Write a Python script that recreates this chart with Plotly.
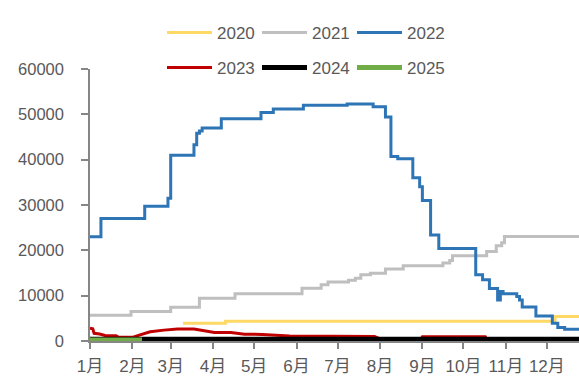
import plotly.graph_objects as go

YEAR = "2001"

# 2020
d2020 = ["03-10", "04-10", "12-07", "12-31"]
v2020 = [3900, 4350, 5400, 5400]

# 2021
d2021 = ["01-01", "01-31", "03-01", "03-22", "04-17", "06-05", "06-19", "06-24",
         "07-09", "07-14", "07-18", "07-25", "08-05", "08-18", "09-16", "09-21",
         "09-23", "10-18", "10-25", "10-29", "10-31", "12-31"]
v2021 = [5700, 6500, 7450, 9450, 10400, 11650, 12400, 13000,
         13400, 13850, 14600, 14950, 15900, 16600, 17200, 17750,
         18800, 19750, 21000, 21700, 23050, 23050]

# 2022
d2022 = ["01-01", "01-09", "02-10", "02-27", "03-01", "03-18", "03-20", "03-22",
         "03-24", "04-07", "05-06", "05-15", "06-06", "07-08", "07-27", "08-05",
         "08-09", "08-14", "08-25", "08-30", "09-01", "09-07", "09-13", "10-10",
         "10-15", "10-20", "10-26", "10-28", "10-30", "11-03", "11-09", "11-11",
         "11-13", "11-23", "12-05", "12-09", "12-14", "12-31"]
v2022 = [23000, 27000, 29700, 31500, 41000, 43300, 45800, 46300,
         47000, 49000, 50400, 51200, 52000, 52300, 51700, 49400,
         40700, 40200, 36000, 34000, 31000, 23400, 20400, 14600,
         13500, 11600, 9050, 10900, 10400, 10400, 9800, 9050,
         7500, 5500, 3900, 3000, 2600, 2600]

# 2023
d2023 = ["01-01", "01-03", "01-04", "01-08", "01-12", "01-20", "01-22", "02-01",
         "02-06", "02-14", "02-24", "03-06", "03-18", "03-25", "04-02", "04-14",
         "04-24", "05-07", "05-27", "07-28", "08-01", "08-31", "09-01", "10-17",
         "10-18", "12-31"]
v2023 = [2800, 2700, 1700, 1550, 1200, 1150, 800, 800,
         1300, 2050, 2400, 2650, 2650, 2300, 1900, 1850,
         1500, 1450, 1100, 1000, 450, 450, 950, 950,
         400, 400]

# 2024
d2024 = ["01-01", "12-31"]
v2024 = [400, 400]

# 2025
d2025 = ["01-01", "02-08"]
v2025 = [200, 200]

month_ticks = [f"{YEAR}-{m:02d}-01" for m in range(1, 13)]
month_labels = [f"{m}月" for m in range(1, 13)]

FONT = "Liberation Sans, Noto Sans CJK SC, sans-serif"
GREY_TXT = "#595959"

series = [
    ("2020", d2020, v2020, "#FFD966", 3, "hv", "legend"),
    ("2021", d2021, v2021, "#BFBFBF", 3, "hv", "legend"),
    ("2022", d2022, v2022, "#2E75B6", 3, "hv", "legend"),
    ("2023", d2023, v2023, "#C00000", 3, "linear", "legend2"),
    ("2024", d2024, v2024, "#000000", 5, "linear", "legend2"),
    ("2025", d2025, v2025, "#70AD47", 5, "linear", "legend2"),
]

fig = go.Figure()
for name, dates, vals, color, width, shape, leg in series:
    fig.add_trace(go.Scatter(
        x=[f"{YEAR}-{d}" for d in dates],
        y=vals,
        name=name,
        mode="lines",
        line=dict(color=color, width=width, shape=shape),
        legend=leg,
    ))

legend_style = dict(
    orientation="h",
    xref="container", yref="container",
    xanchor="left", yanchor="middle",
    bgcolor="rgba(0,0,0,0)",
    font=dict(family=FONT, size=17, color=GREY_TXT),
    itemwidth=45,
    entrywidth=35,
    entrywidthmode="pixels",
    tracegroupgap=0,
)

fig.update_layout(
    width=579, height=376,
    margin=dict(l=90, r=0, t=69, b=35, autoexpand=False),
    plot_bgcolor="white", paper_bgcolor="white",
    font=dict(family=FONT, size=17, color=GREY_TXT),
    showlegend=True,
    legend=dict(legend_style, x=162 / 579, y=1 - 33 / 376),
    legend2=dict(legend_style, x=162 / 579, y=1 - 68 / 376),
    xaxis=dict(
        type="date",
        range=[f"{YEAR}-01-01", f"{YEAR}-12-24 12:00"],
        tickvals=month_ticks, ticktext=month_labels,
        ticks="outside", ticklen=6, tickcolor="#868686", tickwidth=1.5,
        showline=True, linecolor="#868686", linewidth=1.5,
        showgrid=False, zeroline=False,
        ticklabelstandoff=3,
        tickfont=dict(family=FONT, size=17, color=GREY_TXT),
    ),
    yaxis=dict(
        range=[0, 60000], dtick=10000, tick0=0, tickformat="d",
        ticks="outside", ticklen=7, tickcolor="#868686", tickwidth=1.5,
        showline=True, linecolor="#868686", linewidth=1.5,
        showgrid=False, zeroline=False,
        ticklabelstandoff=14,
        tickfont=dict(family=FONT, size=16.5, color=GREY_TXT),
    ),
)

fig.write_html("out.html", config={"displayModeBar": False},
               post_script="document.body.style.margin='0';")
